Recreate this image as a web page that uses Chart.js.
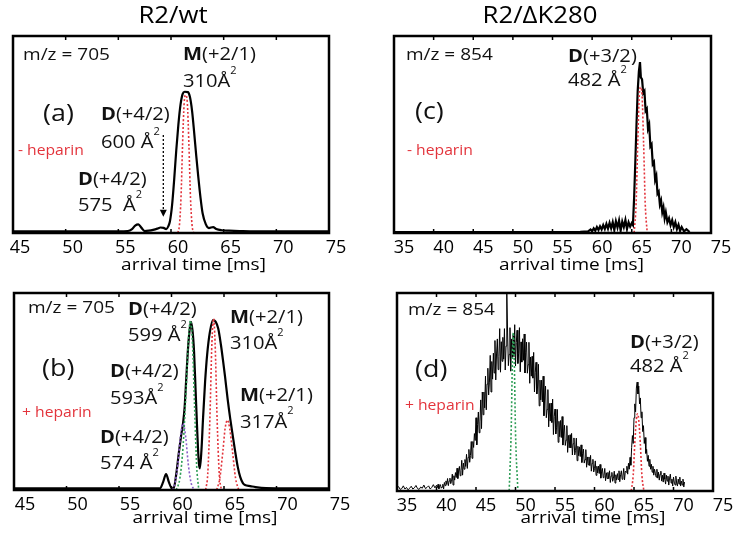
<!DOCTYPE html>
<html>
<head>
<meta charset="utf-8">
<script src="https://cdn.jsdelivr.net/npm/chart.js@4.4.1/dist/chart.umd.min.js"></script>
<style>
  body { margin: 0; background: #fff; width: 739px; height: 536px; position: relative; overflow: hidden; }
  canvas { position: absolute; }
</style>
</head>
<body>
<canvas id="pa" width="370" height="283" style="left:0;top:0"></canvas>
<canvas id="pc" width="369" height="283" style="left:370px;top:0"></canvas>
<canvas id="pb" width="370" height="253" style="left:0;top:283px"></canvas>
<canvas id="pd" width="369" height="253" style="left:370px;top:283px"></canvas>
<script>
// tick labels
var wtTicks = [45, 50, 55, 60, 65, 70, 75];
var mutTicks = [35, 40, 45, 50, 55, 60, 65, 70, 75];

// (a) R2/wt, - heparin
var aTime = [45, 50, 55, 55.9, 56.3, 56.6, 56.9, 57.2, 57.5, 57.9, 58.3, 58.7, 59.0, 59.3, 59.55,
  59.75, 59.9, 60.1, 60.3, 60.5, 60.7, 60.9, 61.1, 61.3, 61.6, 61.8, 62.0, 62.2, 62.4, 62.6,
  62.8, 63.0, 63.3, 63.6, 64.0, 64.3, 64.8, 65.5, 66.5, 68, 75];
var aSignal = [0.8, 0.8, 0.8, 1.0, 2.0, 3.8, 4.4, 2.6, 1.0, 1.2, 1.6, 2.2, 2.8, 2.6, 2.0,
  3.5, 6, 14, 27, 42, 55, 65, 70.5, 71.7, 71.5, 69, 62, 51, 39, 28,
  18, 10, 4.5, 2.5, 3.0, 2.0, 1.4, 1.2, 1.0, 0.8, 0.8];
var aFitTime = [60.65, 60.8, 60.95, 61.1, 61.25, 61.4, 61.55, 61.7, 61.85, 62.0, 62.15];
var aFitSignal = [0, 4, 18, 45, 66, 70, 66, 45, 18, 4, 0];

// (b) R2/wt, + heparin
var bTime = [45, 50, 55, 58.9, 59.2, 59.48, 59.75, 60.0, 60.2, 60.45, 60.7, 60.9, 61.1, 61.25,
  61.4, 61.55, 61.7, 61.85, 62.0, 62.15, 62.3, 62.45, 62.6, 62.7, 62.85, 63.0, 63.2, 63.4,
  63.65, 63.95, 64.2, 64.45, 64.7, 64.9, 65.1, 65.35, 65.6, 65.85, 66.05, 66.3, 66.55, 66.8,
  67.0, 67.5, 68, 69, 75];
var bSignal = [0.8, 0.8, 0.8, 0.9, 4, 8.1, 4, 1.0, 0.8, 8, 19, 27, 34, 42,
  56, 70, 80, 85.4, 81, 70, 50, 30, 14, 11, 20, 36, 55, 69,
  80, 86.3, 85.5, 82, 74, 66, 57.5, 46, 36, 27, 20, 12, 6.5, 3.5,
  2.5, 2.0, 1.5, 1.0, 0.8];
var bFit574Time = [60.1, 60.35, 60.6, 60.85, 61.1, 61.35, 61.6, 61.85, 62.15];
var bFit574Signal = [0, 4, 13, 27, 33.8, 27, 13, 4, 0];
var bFit599Time = [60.45, 60.8, 61.1, 61.4, 61.6, 61.8, 62.0, 62.2, 62.4, 62.6];
var bFit599Signal = [0, 6, 22, 52, 75, 86, 74, 42, 12, 0];
var bFit310Time = [63.25, 63.45, 63.65, 63.85, 64.0, 64.15, 64.35, 64.55, 64.75];
var bFit310Signal = [0, 8, 35, 75, 87, 75, 35, 8, 0];
var bFit317Time = [64.3, 64.6, 64.9, 65.1, 65.33, 65.55, 65.8, 66.1, 66.4];
var bFit317Signal = [0, 6, 20, 31, 35.5, 31, 20, 6, 0];

// (c) R2/dK280, - heparin
var cTime = [35, 40, 45, 50, 55, 58.5, 59.5, 59.8, 60.0, 60.2, 60.4, 60.6, 60.8, 61.0, 61.2,
  61.4, 61.6, 61.8, 62.0, 62.2, 62.4, 62.6, 62.8, 63.0, 63.2, 63.4, 63.6, 63.8, 64.0,
  64.2, 64.4, 64.6, 64.8, 65.0, 65.15, 65.3, 65.45, 65.6, 65.75, 65.9, 66.04, 66.15, 66.3,
  66.45, 66.6, 66.75, 66.9, 67.05, 67.2, 67.35, 67.5, 67.65, 67.8, 67.95, 68.1, 68.25,
  68.4, 68.55, 68.7, 68.85, 69.0, 69.15, 69.3, 69.5, 69.7, 69.9, 70.1, 70.3, 70.5, 70.7,
  70.9, 71.1, 71.3, 71.6, 71.9, 72.3];
var cSignal = [0.5, 0.5, 0.5, 0.5, 0.5, 0.6, 0.8, 1.8, 0.9, 2.4, 1.2, 3.0, 1.5, 3.4, 1.8,
  4.0, 2.0, 4.6, 2.2, 5.2, 2.4, 5.5, 1.5, 6.0, 2.8, 6.4, 1.2, 5.8, 3.0,
  6.6, 2.0, 5.4, 3.2, 5.0, 4.0, 18, 36, 55, 72, 82, 86.8, 79, 78,
  71, 72, 62, 63, 53, 55, 44, 45, 35, 36, 27, 29, 20,
  21, 14.5, 16.5, 10.5, 13, 7.5, 10.5, 5.5, 7.5, 4, 6.5, 3, 5.5, 2,
  4.2, 1.1, 3.0, 0.8, 1.9, 0.5];
var cFitTime = [65.3, 65.55, 65.75, 65.95, 66.13, 66.3, 66.5, 66.7, 66.95];
var cFitSignal = [0, 15, 45, 70, 74, 70, 45, 15, 0];

// (d) R2/dK280, + heparin
var dTime = [35.0, 35.2, 35.4, 35.6, 35.8, 36.0, 36.2, 36.4, 36.6, 36.8,
  37.0, 37.2, 37.4, 37.6, 37.8, 38.0, 38.2, 38.4, 38.6, 38.8,
  39.0, 39.2, 39.4, 39.6, 39.8,
  40.0, 40.1, 40.2, 40.3, 40.4, 40.5, 40.6, 40.7, 40.8, 40.9,
  41.0, 41.1, 41.2, 41.3, 41.4, 41.5, 41.6, 41.7, 41.8, 41.9,
  42.0, 42.1, 42.2, 42.3, 42.4, 42.5, 42.6, 42.7, 42.8, 42.9,
  43.0, 43.1, 43.2, 43.3, 43.4, 43.5, 43.6, 43.7, 43.8, 43.9,
  44.0, 44.1, 44.2, 44.3, 44.4, 44.5, 44.6, 44.7, 44.8, 44.9,
  45.0, 45.1, 45.2, 45.3, 45.4, 45.5, 45.6, 45.7, 45.8, 45.9,
  46.0, 46.1, 46.2, 46.3, 46.4, 46.5, 46.6, 46.7, 46.8, 46.9,
  47.0, 47.1, 47.2, 47.3, 47.4, 47.5, 47.6, 47.7, 47.8, 47.9,
  48.0, 48.1, 48.2, 48.3, 48.4, 48.5, 48.6, 48.7, 48.8, 48.9,
  49.0, 49.1, 49.2, 49.3, 49.4, 49.5, 49.6, 49.7, 49.8, 49.9,
  50.0, 50.1, 50.2, 50.3, 50.4, 50.5, 50.6, 50.7, 50.8, 50.9,
  51.0, 51.1, 51.2, 51.3, 51.4, 51.5, 51.6, 51.7, 51.8, 51.9,
  52.0, 52.1, 52.2, 52.3, 52.4, 52.5, 52.6, 52.7, 52.8, 52.9,
  53.0, 53.1, 53.2, 53.3, 53.4, 53.5, 53.6, 53.7, 53.8, 53.9,
  54.0, 54.1, 54.2, 54.3, 54.4, 54.5, 54.6, 54.7, 54.8, 54.9,
  55.0, 55.1, 55.2, 55.3, 55.4, 55.5, 55.6, 55.7, 55.8, 55.9,
  56.0, 56.1, 56.2, 56.3, 56.4, 56.5, 56.6, 56.7, 56.8, 56.9,
  57.0, 57.1, 57.2, 57.3, 57.4, 57.5, 57.6, 57.7, 57.8, 57.9,
  58.0, 58.1, 58.2, 58.3, 58.4, 58.5, 58.6, 58.7, 58.8, 58.9,
  59.0, 59.1, 59.2, 59.3, 59.4, 59.5, 59.6, 59.7, 59.8, 59.9,
  60.0, 60.1, 60.2, 60.3, 60.4, 60.5, 60.6, 60.7, 60.8, 60.9,
  61.0, 61.1, 61.2, 61.3, 61.4, 61.5, 61.6, 61.7, 61.8, 61.9,
  62.0, 62.1, 62.2, 62.3, 62.4, 62.5, 62.6, 62.7, 62.8, 62.9,
  63.0, 63.1, 63.2, 63.3, 63.4, 63.5, 63.6, 63.7, 63.8, 63.9,
  64.0, 64.1, 64.2, 64.3, 64.4, 64.5, 64.6, 64.7, 64.8, 64.9,
  65.0, 65.1, 65.2, 65.3, 65.4, 65.5, 65.6, 65.7, 65.8, 65.9,
  66.0, 66.1, 66.2, 66.3, 66.4, 66.5, 66.6, 66.7, 66.8, 66.9,
  67.0, 67.1, 67.2, 67.3, 67.4, 67.5, 67.6, 67.7, 67.8, 67.9,
  68.0, 68.1, 68.2, 68.3, 68.4, 68.5, 68.6, 68.7, 68.8, 68.9,
  69.0, 69.1, 69.2, 69.3, 69.4, 69.5, 69.6, 69.7, 69.8, 69.9,
  70.0, 70.1, 70.2, 70.3, 70.4, 70.5, 70.6, 70.7, 70.8, 70.9,
  71.0, 71.1, 71.2, 71.3, 71.4];
var dSignal = [1.5, 2.2, 0.8, 1.2, 2.6, 1.0, 1.8, 0.6, 1.4, 2.4,
  1.0, 1.6, 2.8, 1.2, 0.8, 2.0, 1.4, 3.0, 1.2, 1.8,
  2.6, 1.0, 1.8, 3.2, 1.6,
  2.9, 1.7, 3.4, 1.1, 2.4, 3.2, 1.4, 2.0, 3.4, 1.0,
  4.3, 2.7, 5.1, 3.3, 6.3, 2.7, 5.1, 6.5, 3.7, 4.9,
  8.5, 3.0, 7.7, 5.5, 9.3, 6.8, 11.5, 6.3, 10.1, 12.4,
  7.7, 10.2, 15.5, 8.0, 14.1, 11.0, 15.9, 12.4, 18.5, 11.4,
  17.0, 21.0, 14.5, 18.0, 25.0, 16.5, 25.0, 22.0, 29.0, 25.5,
  37.0, 23.3, 33.6, 39.9, 29.4, 34.9, 46.0, 31.5, 50.0, 38.5,
  50.0, 42.0, 58.0, 41.0, 54.0, 62.0, 48.5, 55.0, 68.5, 50.0,
  65.4, 56.5, 69.6, 59.6, 76.0, 56.1, 69.2, 76.8, 61.3, 67.8,
  82.0, 60.0, 75.4, 65.5, 77.6, 66.6, 82.0, 61.1, 73.2, 100.0,
  79.8, 63.3, 69.0, 82.5, 60.5, 76.8, 67.0, 79.0, 68.0, 84.0,
  63.1, 74.9, 81.2, 64.4, 69.6, 82.5, 60.2, 75.3, 65.1, 76.9,
  66.0, 79.3, 59.6, 69.9, 75.2, 59.5, 63.8, 75.1, 54.4, 67.7,
  58.0, 68.0, 57.0, 70.0, 50.0, 60.0, 65.0, 49.0, 53.0, 64.0,
  43.0, 56.0, 46.0, 56.0, 45.0, 58.0, 38.0, 48.0, 53.0, 37.0,
  41.2, 51.2, 32.4, 44.2, 35.3, 44.4, 34.6, 46.4, 28.5, 37.6,
  41.4, 28.8, 32.2, 41.2, 24.6, 35.2, 27.4, 35.6, 27.0, 37.6,
  23.2, 29.8, 33.2, 23.0, 25.7, 33.0, 19.5, 28.1, 21.8, 28.4,
  21.8, 29.1, 18.2, 23.9, 26.8, 18.2, 20.5, 26.7, 15.3, 22.6,
  17.8, 22.3, 17.4, 23.3, 14.4, 18.9, 21.2, 14.1, 15.9, 20.9,
  12.0, 17.2, 13.2, 17.2, 12.8, 18.0, 10.0, 14.0, 16.0, 9.6,
  11.3, 15.2, 7.9, 12.5, 9.1, 12.6, 8.8, 13.4, 6.5, 10.0,
  11.4, 6.7, 8.0, 11.4, 5.2, 9.2, 6.3, 9.4, 6.2, 10.2,
  4.3, 7.6, 9.4, 4.9, 6.4, 10.0, 4.0, 8.2, 5.5, 8.8,
  5.8, 10.2, 4.7, 8.2, 10.2, 5.9, 7.6, 11.4, 5.6, 10.0,
  9.5, 12.5, 8.5, 14.0, 11.0, 17.0, 13.0, 22.0, 28.0, 24.0,
  37.0, 44.0, 40.0, 52.0, 55.0, 49.0, 53.0, 44.0, 47.0, 37.0,
  40.0, 30.0, 33.0, 24.0, 27.0, 19.0, 21.0, 15.0, 18.0, 12.5,
  16.0, 11.0, 13.5, 9.5, 12.5, 8.0, 11.0, 9.0, 7.0, 11.0,
  6.5, 9.5, 5.5, 8.5, 10.0, 5.0, 8.0, 4.5, 9.0, 6.0,
  3.5, 8.0, 5.0, 7.5, 3.0, 6.5, 8.5, 4.0, 6.0, 2.5,
  7.0, 4.5, 3.0, 7.5, 4.0, 2.5, 6.0, 3.5, 7.0, 2.5,
  5.0, 3.0, 6.0, 2.0, 4.5];
var dFitGreenTime = [49.2, 49.45, 49.6, 49.72, 49.85, 50.0, 50.3];
var dFitGreenSignal = [0, 30, 65, 80, 65, 30, 0];
var dFitRedTime = [64.65, 64.9, 65.1, 65.3, 65.45, 65.6, 65.8, 66.0, 66.25];
var dFitRedSignal = [0, 8, 24, 36, 39, 36, 24, 8, 0];

var RED = '#e3343c';
var FONT = '"Open Sans", sans-serif';
var STRETCH = 1.12;

function pts(xs, ys) {
  return xs.map(function (v, i) { return { x: v, y: ys[i] }; });
}
function solid(xs, ys, w, smooth) {
  return { data: pts(xs, ys), borderColor: '#000', borderWidth: w, pointRadius: 0,
    cubicInterpolationMode: smooth ? 'monotone' : 'default', tension: 0 };
}
function dotted(xs, ys, color) {
  return { data: pts(xs, ys), borderColor: color, borderWidth: 1.6, borderDash: [2, 2],
    pointRadius: 0, cubicInterpolationMode: 'monotone' };
}

// texto con partes en negrita / superíndice
function drawRich(ctx, parts, x, y, size, color, center) {
  ctx.save();
  ctx.translate(x, y);
  ctx.scale(STRETCH, 1);
  ctx.fillStyle = color;
  ctx.textBaseline = 'middle';
  ctx.textAlign = 'left';
  var fontOf = function (p) {
    return (p[1] === 'b' ? 'bold ' : '') + (p[1] === 's' ? size * 0.55 : size) + 'px ' + FONT;
  };
  var w = 0;
  parts.forEach(function (p) { ctx.font = fontOf(p); w += ctx.measureText(p[0]).width; });
  var cx = center ? -w / 2 : 0;
  parts.forEach(function (p) {
    ctx.font = fontOf(p);
    ctx.fillText(p[0], cx, p[1] === 's' ? -size * 0.6 : 0);
    cx += ctx.measureText(p[0]).width;
  });
  ctx.restore();
}

function D(c) { return [['D', 'b'], [c]]; }
function M(c) { return [['M', 'b'], [c]]; }
function area(t) { return [[t], ['2', 's']]; }

var notesA = [
  { x: 45.95, y: 90.4, parts: [['m/z = 705']], size: 17 },
  { x: 61.14, y: 90.4, parts: M('(+2/1)'), size: 18 },
  { x: 61.14, y: 76.8, parts: area('310Å'), size: 18 },
  { x: 47.85, y: 60.4, parts: [['(a)']], size: 24 },
  { x: 53.35, y: 59.9, parts: D('(+4/2)'), size: 18 },
  { x: 53.35, y: 45.9, parts: area('600 Å'), size: 18 },
  { x: 45.47, y: 41.6, parts: [['- heparin']], size: 14, color: RED },
  { x: 51.17, y: 26.9, parts: D('(+4/2)'), size: 18 },
  { x: 51.17, y: 13.7, parts: area('575  Å'), size: 18 }
];
var notesB = [
  { x: 46.33, y: 92.1, parts: [['m/z = 705']], size: 17 },
  { x: 55.86, y: 91.6, parts: D('(+4/2)'), size: 18 },
  { x: 55.86, y: 78.2, parts: area('599 Å'), size: 18 },
  { x: 65.57, y: 87.3, parts: M('(+2/1)'), size: 18 },
  { x: 65.57, y: 74.1, parts: area('310Å'), size: 18 },
  { x: 47.67, y: 61.4, parts: [['(b)']], size: 24 },
  { x: 54.14, y: 59.9, parts: D('(+4/2)'), size: 18 },
  { x: 54.14, y: 46.2, parts: area('593Å'), size: 18 },
  { x: 66.52, y: 47.7, parts: M('(+2/1)'), size: 18 },
  { x: 66.52, y: 34.3, parts: area('317Å'), size: 18 },
  { x: 45.76, y: 39.1, parts: [['+ heparin']], size: 14, color: RED },
  { x: 53.19, y: 26.4, parts: D('(+4/2)'), size: 18 },
  { x: 53.19, y: 13.2, parts: area('574 Å'), size: 18 }
];
var notesC = [
  { x: 36.5, y: 90.4, parts: [['m/z = 854']], size: 17 },
  { x: 56.96, y: 89.6, parts: D('(+3/2)'), size: 18 },
  { x: 56.96, y: 77.2, parts: area('482 Å'), size: 18 },
  { x: 37.65, y: 61.2, parts: [['(c)']], size: 24 },
  { x: 36.64, y: 41.6, parts: [['- heparin']], size: 14, color: RED }
];
var notesD = [
  { x: 36.39, y: 91.4, parts: [['m/z = 854']], size: 17 },
  { x: 37.28, y: 61.1, parts: [['(d)']], size: 24 },
  { x: 36.0, y: 42.9, parts: [['+ heparin']], size: 14, color: RED },
  { x: 64.49, y: 75, parts: D('(+3/2)'), size: 18 },
  { x: 64.49, y: 62.8, parts: area('482 Å'), size: 18 }
];

function makePanel(cfg) {
  var decor = {
    id: 'decor',
    afterDraw: function (chart) {
      var ctx = chart.ctx, a = chart.chartArea, sx = chart.scales.x, sy = chart.scales.y;
      ctx.save();
      // marco y marcas hacia dentro
      ctx.strokeStyle = '#000';
      ctx.lineWidth = 2.5;
      ctx.strokeRect(a.left, a.top, a.right - a.left, a.bottom - a.top);
      ctx.lineWidth = 1.5;
      sx.ticks.forEach(function (t) {
        var px = sx.getPixelForValue(t.value);
        if (px <= a.left + 2 || px >= a.right - 2) return;
        ctx.beginPath();
        ctx.moveTo(px, a.bottom); ctx.lineTo(px, a.bottom - 4);
        ctx.moveTo(px, a.top); ctx.lineTo(px, a.top + 4);
        ctx.stroke();
      });
      // flecha punteada (a)
      if (cfg.arrow) {
        var ax = sx.getPixelForValue(cfg.arrow.x);
        var y0 = sy.getPixelForValue(cfg.arrow.from), y1 = sy.getPixelForValue(cfg.arrow.to);
        ctx.setLineDash([2, 2]);
        ctx.lineWidth = 1.3;
        ctx.beginPath(); ctx.moveTo(ax, y0); ctx.lineTo(ax, y1 - 6); ctx.stroke();
        ctx.setLineDash([]);
        ctx.fillStyle = '#000';
        ctx.beginPath(); ctx.moveTo(ax, y1); ctx.lineTo(ax - 3.5, y1 - 7); ctx.lineTo(ax + 3.5, y1 - 7); ctx.closePath(); ctx.fill();
      }
      ctx.restore();
      var cxm = (a.left + a.right) / 2;
      drawRich(ctx, [['arrival time [ms]']], cxm + cfg.axisDx, a.bottom + cfg.axisDy, 17, '#000', true);
      if (cfg.title) drawRich(ctx, [[cfg.title]], cxm + cfg.titleDx, a.top - 19.5, 23, '#000', true);
      cfg.notes.forEach(function (n) {
        drawRich(ctx, n.parts, sx.getPixelForValue(n.x), sy.getPixelForValue(n.y), n.size, n.color || '#111');
      });
    }
  };
  return new Chart(document.getElementById(cfg.id), {
    type: 'line',
    data: { datasets: cfg.datasets },
    options: {
      responsive: false,
      animation: false,
      layout: { padding: cfg.pad },
      plugins: { legend: { display: false }, tooltip: { enabled: false } },
      scales: {
        x: {
          type: 'linear', min: cfg.ticks[0], max: cfg.ticks[cfg.ticks.length - 1],
          border: { display: false },
          grid: { display: false },
          afterBuildTicks: function (s) { s.ticks = cfg.ticks.map(function (v) { return { value: v }; }); },
          afterFit: function (s) { s.height = cfg.scaleH; },
          ticks: { padding: -4, labelOffset: cfg.labelOffset, color: '#000', autoSkip: false, maxRotation: 0,
            font: { family: 'Open Sans', size: 18 } }
        },
        y: { display: false, min: 0, max: 100 }
      }
    },
    plugins: [decor]
  });
}

makePanel({
  id: 'pa', ticks: wtTicks, labelOffset: 7, scaleH: 50, pad: { left: 13, right: 41, top: 36, bottom: 0 },
  title: 'R2/wt', titleDx: 2, axisDx: 22.5, axisDy: 32, notes: notesA,
  arrow: { x: 59.27, from: 49.7, to: 8.3 },
  datasets: [dotted(aFitTime, aFitSignal, RED), solid(aTime, aSignal, 2.2, true)]
});
makePanel({
  id: 'pb', ticks: wtTicks, labelOffset: 11, scaleH: 46, pad: { left: 14, right: 41, top: 10, bottom: 0 },
  axisDx: 33.5, axisDy: 28, notes: notesB,
  datasets: [
    dotted(bFit310Time, bFit310Signal, RED), dotted(bFit317Time, bFit317Signal, RED),
    dotted(bFit599Time, bFit599Signal, '#2f9e57'), dotted(bFit574Time, bFit574Signal, '#8a5fc8'),
    solid(bTime, bSignal, 2.2, true)
  ]
});
makePanel({
  id: 'pc', ticks: mutTicks, labelOffset: 10, scaleH: 50, pad: { left: 24, right: 28, top: 36, bottom: 0 },
  title: 'R2/ΔK280', titleDx: -12.5, axisDx: 19, axisDy: 32, notes: notesC,
  datasets: [dotted(cFitTime, cFitSignal, RED), solid(cTime, cSignal, 2.2, false)]
});
makePanel({
  id: 'pd', ticks: mutTicks, labelOffset: 10, scaleH: 45, pad: { left: 27, right: 26, top: 10, bottom: 0 },
  axisDx: 38, axisDy: 27, notes: notesD,
  datasets: [dotted(dFitGreenTime, dFitGreenSignal, '#2f9e57'), dotted(dFitRedTime, dFitRedSignal, RED),
    solid(dTime, dSignal, 1.0, false)]
});
</script>
</body>
</html>
